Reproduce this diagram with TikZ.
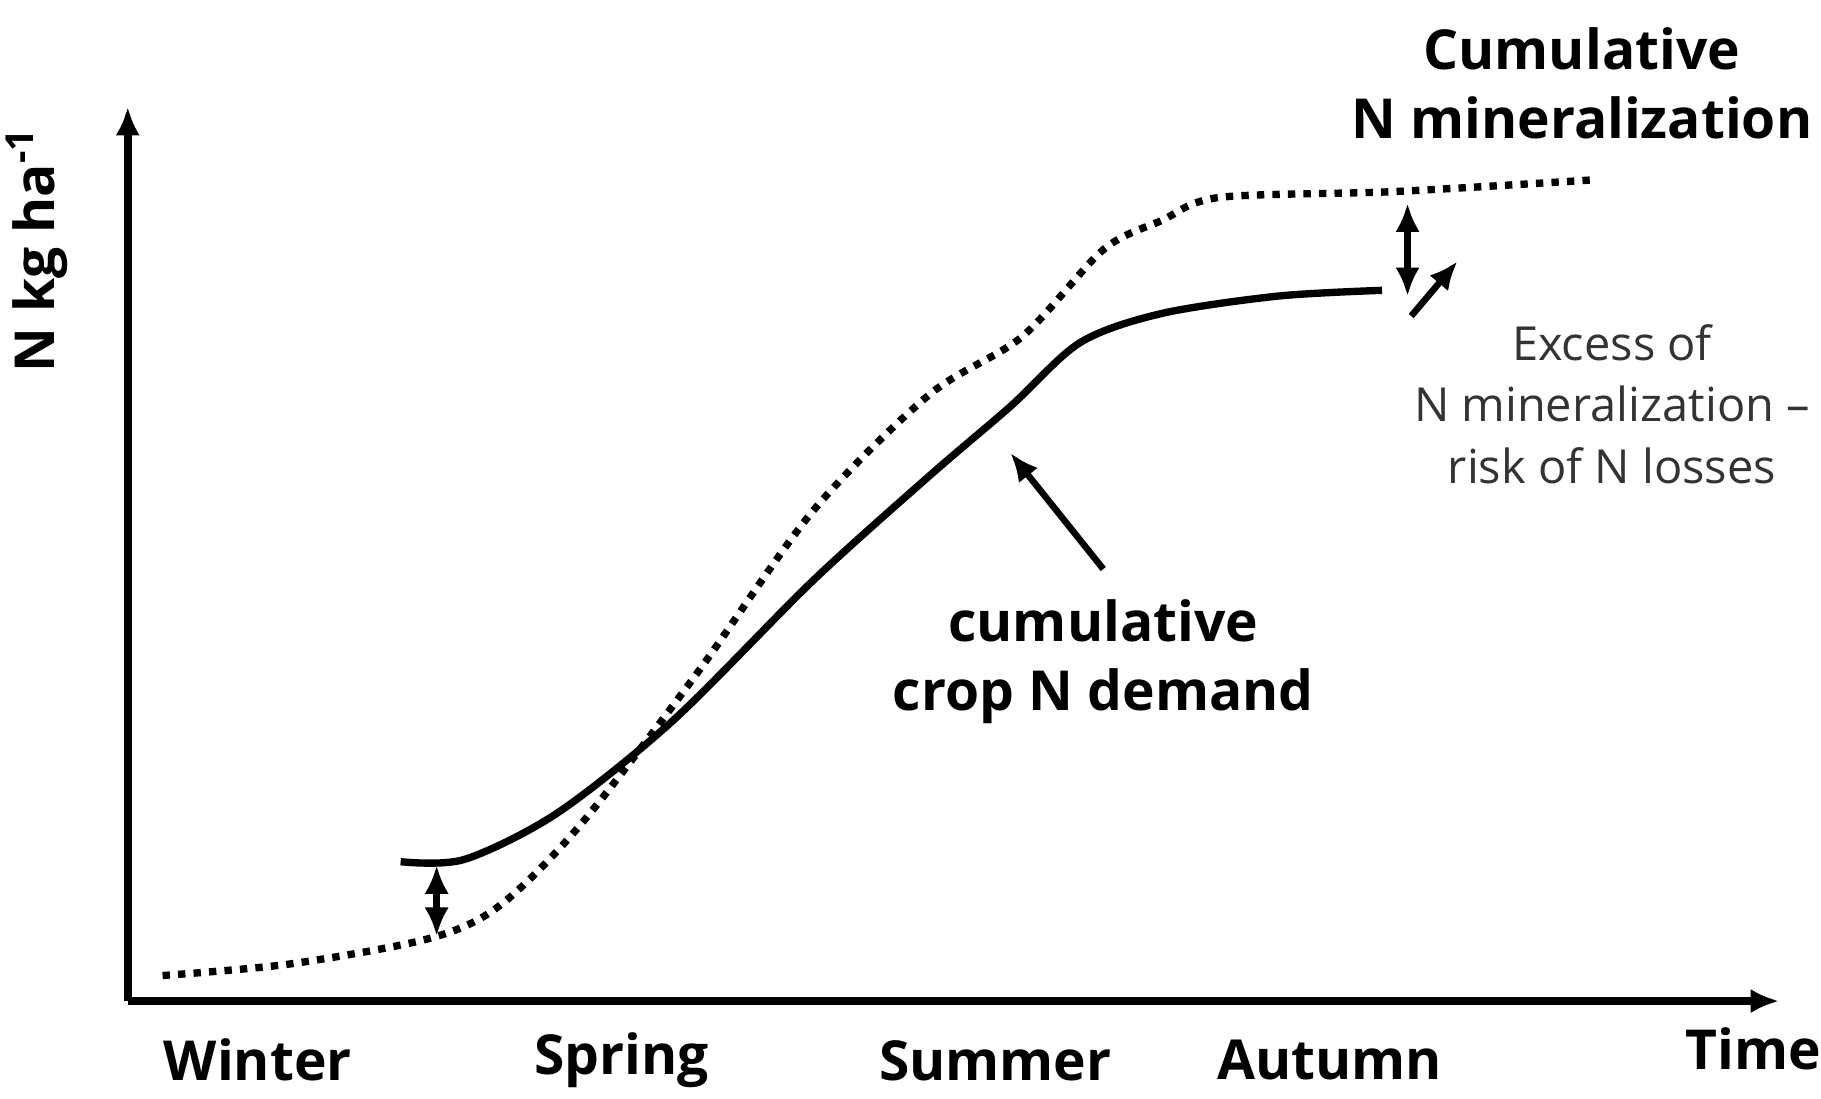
\documentclass[tikz,border=0pt]{standalone}
\usepackage{fontspec}
\setmainfont{Open Sans}
\usetikzlibrary{arrows.meta}
\begin{document}
\begin{tikzpicture}[x=0.01cm,y=-0.01cm,
  lbl/.style={font=\fontsize{13.5}{17}\selectfont\bfseries,align=center},
  note/.style={font=\fontsize{11.5}{15}\selectfont,align=center,text=black!80},
  arr/.style={-{Latex[length=7pt,width=6pt]},line width=1.6pt},
  darr/.style={{Latex[length=7pt,width=6pt]}-{Latex[length=7pt,width=6pt]},line width=1.6pt}]
\useasboundingbox (0,0) rectangle (1568,946);
\coordinate (o) at (110,862);
\coordinate (ytop) at (110,92);
\coordinate (xend) at (1532,862);
\draw[arr,line width=2pt] (o) -- (ytop);
\draw[arr,line width=2pt] (o) -- (xend);
\node[lbl] (w) at (222,913) {Winter};
\node[lbl] (sp) at (535,913) {Spring};
\node[lbl] (su) at (857,913) {Summer};
\node[lbl] (au) at (1145,913) {Autumn};
\node[lbl] (t) at (1510,903) {Time};
\node[lbl,rotate=90] (yl) at (32,215) {N kg ha\textsuperscript{-1}};
\draw[line width=1.8pt,dotted] plot[smooth,tension=0.5] coordinates {(140,840) (250,830) (370,808) (430,780) (500,710) (600,580) (700,440) (800,340) (880,290) (950,215) (1000,190) (1050,170) (1200,165) (1370,155)};
\draw[line width=1.8pt] plot[smooth,tension=0.5] coordinates {(345,742) (400,740) (480,700) (580,620) (700,500) (800,410) (870,350) (930,295) (1000,270) (1100,255) (1190,250)};
\coordinate (a1) at (376,745); \coordinate (a2) at (376,806);
\draw[darr] (a1) -- (a2);
\coordinate (b1) at (1212,175); \coordinate (b2) at (1212,255);
\draw[darr] (b1) -- (b2);
\node[lbl] (cd) at (950,570) {cumulative\\crop N demand};
\node[lbl] (cm) at (1362,72) {Cumulative\\N mineralization};
\node[note] (ex) at (1388,348) {Excess of\\N mineralization –\\risk of N losses};
\coordinate (p1) at (870,390);
\coordinate (p2) at (1255,225);
\draw[arr] (950,490) -- (p1);
\draw[arr] (ex.north west)++(10,5) -- (p2);
\end{tikzpicture}
\end{document}
